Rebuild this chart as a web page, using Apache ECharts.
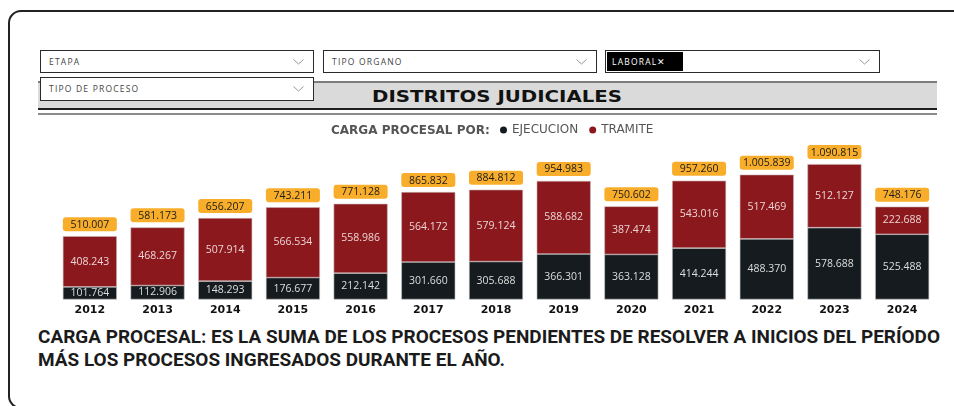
<!DOCTYPE html>
<html>
<head>
<meta charset="utf-8">
<script src="https://cdn.jsdelivr.net/npm/echarts@6/dist/echarts.min.js"></script>
<style>
  body { margin: 0; width: 954px; height: 406px; position: relative; overflow: hidden; background: #fff; font-family: "Open Sans", sans-serif; }
  .frame { position: absolute; left: 8px; top: 10px; width: 970px; height: 399px; border: 2px solid #222; border-radius: 13px; box-sizing: border-box; }
  .dd { position: absolute; height: 23px; border: 1.3px solid #2a2a2a; background: #fff; box-sizing: border-box; z-index: 3; }
  .dd span.t { position: absolute; left: 8px; top: 5px; font-size: 8.5px; letter-spacing: 1.2px; color: #444; }
  .dd svg { position: absolute; right: 9px; top: 8px; }
  .tag { position: absolute; left: 1px; top: 1px; width: 76px; height: 19px; background: #000; color: #fff; font-size: 8.5px; letter-spacing: 1.2px; line-height: 19px; padding-left: 5px; box-sizing: border-box; }
  .band { position: absolute; left: 38px; top: 81px; width: 899px; height: 29px; background: #dadada; border-top: 2px solid #7c7c7c; border-bottom: 2px solid #1e1e1e; box-sizing: border-box; z-index: 2; }
  .band2 { position: absolute; left: 38px; top: 113px; width: 899px; height: 2px; background: #8a8a8a; }
  .title { position: absolute; left: 372px; top: 87px; font-family: "DejaVu Sans"; font-weight: 900; font-size: 16px; color: #111; white-space: nowrap; transform-origin: left top; z-index: 3; }
  .foot { position: absolute; left: 38px; top: 325px; font-family: Roboto; font-weight: bold; font-size: 18px; line-height: 23px; color: #1b1b1b; white-space: nowrap; transform-origin: left top; }
  #chart { position: absolute; left: 0; top: 0; width: 954px; height: 406px; z-index: 1; }
</style>
</head>
<body>
<div class="frame"></div>
<div class="dd" style="left:40px;top:50px;width:274px"><span class="t">ETAPA</span><svg width="11" height="6"><polyline points="0.5,0.5 5.5,5 10.5,0.5" fill="none" stroke="#999" stroke-width="1"/></svg></div>
<div class="dd" style="left:323px;top:50px;width:274px"><span class="t">TIPO ORGANO</span><svg width="11" height="6"><polyline points="0.5,0.5 5.5,5 10.5,0.5" fill="none" stroke="#999" stroke-width="1"/></svg></div>
<div class="dd" style="left:605px;top:50px;width:275px"><div class="tag">LABORAL&#x2715;</div><svg width="11" height="6"><polyline points="0.5,0.5 5.5,5 10.5,0.5" fill="none" stroke="#999" stroke-width="1"/></svg></div>
<div class="band"></div>
<div class="band2"></div>
<div class="dd" style="left:40px;top:77px;width:274px;height:24px"><span class="t">TIPO DE PROCESO</span><svg width="11" height="6"><polyline points="0.5,0.5 5.5,5 10.5,0.5" fill="none" stroke="#999" stroke-width="1"/></svg></div>
<div class="title" id="title">DISTRITOS JUDICIALES</div>
<div class="foot" id="foot">CARGA PROCESAL: ES LA SUMA DE LOS PROCESOS PENDIENTES DE RESOLVER A INICIOS DEL PERÍODO<br>MÁS LOS PROCESOS INGRESADOS DURANTE EL AÑO.</div>
<div id="chart"></div>
<script>
// datos
const years = ['2012', '2013', '2014', '2015', '2016', '2017', '2018', '2019', '2020', '2021', '2022', '2023', '2024'];
const ejecucion = [101764, 112906, 148293, 176677, 212142, 301660, 305688, 366301, 363128, 414244, 488370, 578688, 525488];
const tramite = [408243, 468267, 507914, 566534, 558986, 564172, 579124, 588682, 387474, 543016, 517469, 512127, 222688];
const totals = [510007, 581173, 656207, 743211, 771128, 865832, 884812, 954983, 750602, 957260, 1005839, 1090815, 748176];

function fmt(n) {
  return String(n).replace(/\B(?=(\d{3})+(?!\d))/g, '.');
}

// ajustar ancho de textos (fuente condensada / ancha)
function fitWidth(id, target, firstLineOnly) {
  const el = document.getElementById(id);
  let w;
  if (firstLineOnly) {
    const c = document.createElement('canvas').getContext('2d');
    c.font = 'bold 18px Roboto';
    w = c.measureText(el.innerHTML.split('<br>')[0]).width;
  } else {
    w = el.getBoundingClientRect().width;
  }
  el.style.transform = 'scaleX(' + (target / w) + ')';
}
fitWidth('title', 250, false);
fitWidth('foot', 902, true);

let myChart = echarts.init(document.getElementById('chart'));
myChart.setOption({
  animation: false,
  grid: {
    left: 56,
    right: 18,
    top: 140,
    bottom: 106.5
  },
  graphic: [
    {
      type: 'text',
      x: 331,
      y: 131,
      style: {
        text: 'CARGA PROCESAL POR:',
        fontFamily: 'DejaVu Sans',
        fontWeight: 'bold',
        fontSize: 12,
        fill: '#555',
        verticalAlign: 'middle'
      }
    }
  ],
  legend: {
    data: ['EJECUCION', 'TRAMITE'],
    left: 500,
    top: 124,
    padding: 0,
    icon: 'circle',
    itemWidth: 7,
    itemHeight: 7,
    itemGap: 11,
    selectedMode: false,
    itemStyle: { borderWidth: 0 },
    textStyle: {
      fontFamily: 'DejaVu Sans',
      fontSize: 12,
      color: '#555'
    }
  },
  xAxis: {
    type: 'category',
    data: years,
    axisLine: { show: false },
    axisTick: { show: false },
    axisLabel: {
      color: '#111',
      fontFamily: 'DejaVu Sans',
      fontWeight: 'bold',
      fontSize: 11,
      margin: 5
    }
  },
  yAxis: {
    type: 'value',
    show: false,
    min: 0,
    max: 1285000,
    splitLine: { show: false }
  },
  series: [
    {
      name: 'EJECUCION',
      type: 'bar',
      stack: 'carga',
      data: ejecucion,
      barWidth: 54,
      itemStyle: { color: '#151b1e', borderColor: '#bdbdbd', borderWidth: 0.6 },
      label: {
        show: true,
        position: 'inside',
        formatter: p => fmt(p.value),
        color: '#dedede',
        fontFamily: 'Open Sans',
        fontSize: 10.5
      }
    },
    {
      name: 'TRAMITE',
      type: 'bar',
      stack: 'carga',
      data: tramite,
      barWidth: 54,
      itemStyle: { color: '#8a181d', borderColor: '#c9b0b0', borderWidth: 0.6 },
      label: {
        show: true,
        position: 'inside',
        formatter: p => fmt(p.value),
        color: '#ecd4d4',
        fontFamily: 'Open Sans',
        fontSize: 10.5
      }
    },
    {
      name: 'TOTAL',
      type: 'bar',
      data: totals,
      barWidth: 54,
      barGap: '-100%',
      z: 10,
      itemStyle: { color: 'rgba(0,0,0,0)' },
      label: {
        show: true,
        position: 'top',
        distance: 5,
        formatter: p => fmt(p.value),
        color: '#1a1a1a',
        fontFamily: 'Open Sans',
        fontSize: 10.5,
        lineHeight: 11,
        width: 52,
        align: 'center',
        backgroundColor: '#f9ae2b',
        borderRadius: 3,
        padding: [2, 1, 1, 1]
      }
    }
  ]
});
</script>
</body>
</html>
